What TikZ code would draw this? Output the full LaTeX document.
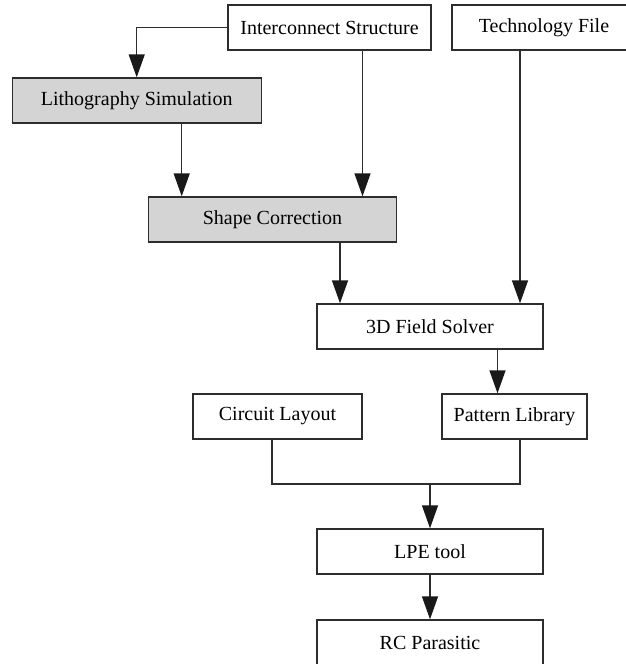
\documentclass[tikz,border=0pt]{standalone}
\usepackage{fontspec}
\setmainfont{Liberation Serif}
\usetikzlibrary{arrows.meta}

\definecolor{linegray}{RGB}{45,45,45}
\definecolor{boxgray}{RGB}{212,212,212}

\begin{document}
\begin{tikzpicture}[x=1pt,y=1pt,yscale=-1,xscale=1,
  box/.style={draw=linegray,line width=1.4pt,fill=white,minimum height=45pt,inner sep=0pt,font=\fontsize{20}{24}\selectfont},
  grayed/.style={box,fill=boxgray},
  arr/.style={draw=linegray,line width=1.4pt,-{Triangle[length=23pt,width=16pt,color=black!90]}},
  wire/.style={draw=linegray,line width=1.4pt}]
\useasboundingbox (0,0) rectangle (626,664);
\clip (0,0) rectangle (626,664);
% Boxes
\node [box,minimum width=203pt] (inter) at (329.5,27.5) {Interconnect Structure};
\node [box,minimum width=184pt] (tech) at (544,27.5) {Technology File};
\node [grayed,minimum width=249pt] (litho) at (136.7,100.5) {Lithography Simulation};
\node [grayed,minimum width=248pt] (shape) at (272.5,219.5) {Shape Correction};
\node [box,minimum width=226pt] (solver) at (430,326.5) {3D Field Solver};
\node [box,minimum width=169pt] (circuit) at (277.5,416.5) {Circuit Layout};
\node [box,minimum width=145pt] (pattern) at (514.5,416.5) {Pattern Library};
\node [box,minimum width=226pt] (lpe) at (430,551.5) {LPE tool};
\node [box,minimum width=226pt] (rc) at (430,642.5) {RC Parasitic};
\coordinate (join) at (430,484);
% Connectors
\draw [arr] (inter.west) -| (litho.north);
\draw [arr] ([xshift=33pt]inter.south) -- ([xshift=33pt]inter.south |- shape.north);
\draw [arr] ([xshift=45pt]litho.south) -- ([xshift=45pt]litho.south |- shape.north);
\draw [arr] ([xshift=67.5pt]shape.south) -- ([xshift=67.5pt]shape.south |- solver.north);
\draw [arr] ([xshift=-24pt]tech.south) -- ([xshift=-24pt]tech.south |- solver.north);
\draw [arr] ([xshift=67.5pt]solver.south) -- ([xshift=67.5pt]solver.south |- pattern.north);
\draw [wire] ([xshift=-5.5pt]circuit.south) |- (join) -| ([xshift=5.5pt]pattern.south);
\draw [arr] (join) -- (lpe.north);
\draw [arr] (lpe.south) -- (rc.north);
\end{tikzpicture}
\end{document}
